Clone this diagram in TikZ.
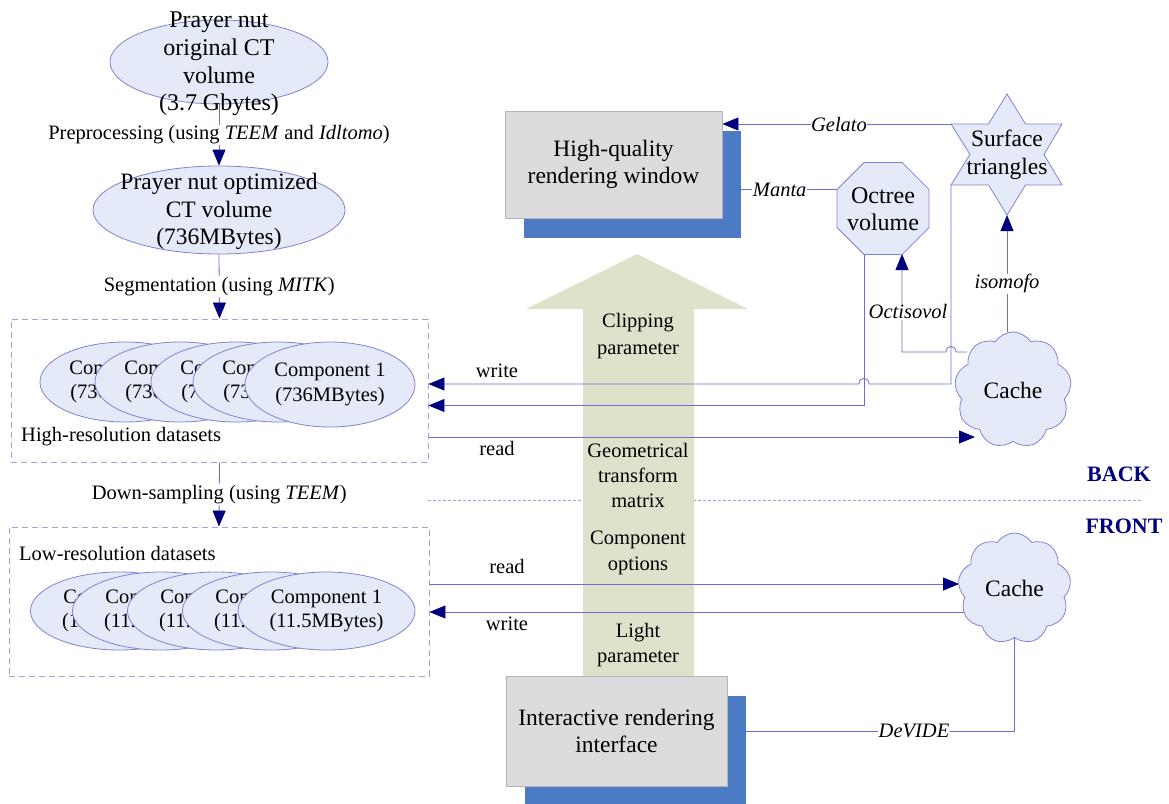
\documentclass[tikz,border=0pt]{standalone}
\usepackage{fontspec}
\setmainfont{Liberation Serif}
\usetikzlibrary{shapes.geometric,shapes.symbols,arrows.meta,shadows,calc}
\definecolor{lineblue}{HTML}{6E6ED2}
\definecolor{ellfill}{HTML}{E4EAF7}
\definecolor{ellline}{HTML}{8282D2}
\definecolor{dashcol}{HTML}{A0A0E0}
\definecolor{navy}{HTML}{00007F}
\definecolor{boxgray}{HTML}{DCDCDC}
\definecolor{boxline}{HTML}{B4B4B4}
\definecolor{shblue}{HTML}{4A7BC4}
\definecolor{olivefill}{HTML}{DEE2CB}
\pgfdeclarelayer{bgA}
\pgfdeclarelayer{bgB}
\pgfsetlayers{bgA,bgB,main}
\begin{document}
\begin{tikzpicture}[x=1pt,y=-1pt,
  font=\fontsize{20.5}{27}\selectfont,
  big/.style={font=\fontsize{23.5}{27.5}\selectfont},
  ell/.style={ellipse, draw=ellline, fill=ellfill, line width=0.8pt, inner sep=0pt},
  comp/.style={ell, align=center, font=\fontsize{20.5}{24.5}\selectfont},
  txt/.style={align=center, inner sep=0pt},
  dbox/.style={draw=dashcol, dash pattern=on 6pt off 4pt, line width=0.9pt, inner sep=0pt},
  gbox/.style={draw=boxline, fill=boxgray, line width=0.8pt, align=center, inner sep=0pt, big,
     drop shadow={shadow xshift=19pt, shadow yshift=-20pt, fill=shblue, opacity=1}},
  conn/.style={draw=lineblue, line width=0.8pt},
  arr/.style={-{Triangle[length=16pt,width=13pt,color=navy]}},
  elbl/.style={fill=white, inner sep=1pt},
  lbl/.style={fill=white, inner sep=0.5pt, font=\fontsize{20.5}{24}\selectfont\itshape},
  side/.style={font=\fontsize{22}{26}\selectfont\bfseries, text=navy, inner sep=0pt},
  shp/.style={draw=ellline, fill=ellfill, line width=0.8pt},
  cl/.style={cloud, cloud puffs=9, cloud puff arc=115, aspect=1, draw=ellline, fill=ellfill, line width=0.8pt, inner sep=0pt, big}]
\useasboundingbox (0,0) rectangle (1169,803);

% left column
\node[ell, minimum width=218pt, minimum height=84pt] (e1) at (219,62) {};
\node[txt, big, font=\fontsize{24}{27.7}\selectfont] (e1t) at (219,64) {Prayer nut\\original CT\\volume\\(3.7 Gbytes)};
\node[ell, minimum width=252pt, minimum height=88pt] (e2) at (219,210) {};
\node[txt, big] (e2t) at (219,211.5) {Prayer nut optimized\\CT volume\\(736MBytes)};

\node[dbox, minimum width=417pt, minimum height=143pt] (hr) at (219.5,390.5) {};
\node[dbox, minimum width=420pt, minimum height=149pt] (lr) at (219,601.5) {};

\node[comp, minimum width=170pt, minimum height=80pt] (h5) at (125,382) {Component 5\\(736MBytes)};
\node[comp, minimum width=170pt, minimum height=80pt] (h4) at (180,382) {Component 4\\(736MBytes)};
\node[comp, minimum width=170pt, minimum height=80pt] (h3) at (236,382) {Component 3\\(736MBytes)};
\node[comp, minimum width=170pt, minimum height=80pt] (h2) at (278,382) {Component 2\\(736MBytes)};
\node[comp, minimum width=170pt, minimum height=85pt] (h1) at (330,384.5) {Component 1\\(736MBytes)};
\node[anchor=west, inner sep=0pt] (hrl) at (21,437) {High-resolution datasets};

\node[anchor=west, inner sep=0pt] (lrl) at (19,553) {Low-resolution datasets};
\node[comp, minimum width=177pt, minimum height=78pt] (l5) at (119,611) {Component 5\\(11.5MBytes)};
\node[comp, minimum width=177pt, minimum height=78pt] (l4) at (161,611) {Component 4\\(11.5MBytes)};
\node[comp, minimum width=177pt, minimum height=78pt] (l3) at (216,611) {Component 3\\(11.5MBytes)};
\node[comp, minimum width=177pt, minimum height=78pt] (l2) at (271,611) {Component 2\\(11.5MBytes)};
\node[comp, minimum width=177pt, minimum height=78pt] (l1) at (326.5,611) {Component 1\\(11.5MBytes)};

\draw[conn,arr] (e1.south) -- node[elbl]{Preprocessing (using \textit{TEEM} and \textit{Idltomo})} (e2.north);
\draw[conn,arr] (e2.south) -- node[elbl]{Segmentation (using \textit{MITK})} (hr.north);
\draw[conn,arr] (hr.south) -- node[elbl]{Down-sampling (using \textit{TEEM})} (lr.north);

% back / front separator and big arrow
\begin{pgfonlayer}{bgA}
\draw[dashcol, line width=0.9pt, dash pattern=on 3pt off 2pt] (hr.east |- 0,500) -- (1143,500);
\fill[olivefill] (583,678) -- (583,309) -- (526,309) -- (637,254) -- (748,309) -- (694,309) -- (694,678) -- cycle;
\end{pgfonlayer}
\node[txt] (t1) at (638,336) {Clipping\\parameter};
\node[txt, font=\fontsize{20.5}{25}\selectfont] (t2) at (638,475) {Geometrical\\transform\\matrix};
\node[txt, font=\fontsize{20.5}{26}\selectfont] (t3) at (638,553) {Component\\options};
\node[txt, font=\fontsize{20.5}{25}\selectfont] (t4) at (638,645) {Light\\parameter};
\node[side] (back) at (1119,474) {BACK};
\node[side] (front) at (1124,526) {FRONT};

% right side nodes
\node[gbox, minimum width=217pt, minimum height=107pt] (hq) at (613.5,164.5) {High-quality\\rendering window};
\node[gbox, minimum width=221pt, minimum height=110pt] (ir) at (616.5,731) {Interactive rendering\\interface};

\coordinate (sT) at (1007,94);
\coordinate (sUL) at (951,124);
\coordinate (sLL) at (951,185);
\coordinate (sB) at (1007,215);
\draw[shp] (sT) -- (1025.5,124) -- (1062,124) -- (1044,154.5) -- (1062,185) -- (1025.5,185) -- (sB)
  -- (988.5,185) -- (sLL) -- (970,154.5) -- (sUL) -- (988.5,124) -- cycle;
\node[txt, big] (st) at (1007,155) {Surface\\triangles};

\node[regular polygon, regular polygon sides=8, minimum size=99.6pt, shp, inner sep=0pt] (oct) at (883,208.5) {};
\node[txt, big, font=\fontsize{24}{27.5}\selectfont] (octt) at (883,209) {Octree\\volume};
\coordinate (oUL) at ($(oct.center)+(-46,-19)$);
\coordinate (oBL) at ($(oct.center)+(-19,45.5)$);
\coordinate (oBR) at ($(oct.center)+(19,45.5)$);

\node[cl, minimum width=117pt, minimum height=116pt] (c1) at (1013,390) {Cache};
\node[cl, minimum width=113pt, minimum height=111pt] (c2) at (1014.5,588.5) {Cache};

\node[inner sep=0pt] (w1) at (497,371) {write};
\node[inner sep=0pt] (r1) at (497,448) {read};
\node[inner sep=0pt] (r2) at (507,566) {read};
\node[inner sep=0pt] (w2) at (507,624) {write};

\begin{pgfonlayer}{bgB}
\draw[conn,arr] (sUL) -- node[lbl,pos=0.49]{Gelato} (sUL -| hq.east);
\draw[conn,arr] (oUL) -- node[lbl,pos=0.5]{Manta} (oUL -| hq.east);
\draw[conn,arr] (c1.north -| sB) -- node[lbl,pos=0.41]{isomofo} (sB);
\draw[conn,arr] (967,352) -- (956,352) .. controls (956,344.5) and (946,344.5) .. (946,352) -- (oBR |- 0,352)
  -- node[lbl,pos=0.41,xshift=6pt]{Octisovol} (oBR);
\draw[conn,arr] (sLL) -- (sLL |- 0,384) -- (869,384) .. controls (869,376.5) and (859,376.5) .. (859,384) -- (hr.east |- 0,384);
\draw[conn,arr] (oBL) -- (oBL |- 0,405.5) -- (hr.east |- 0,405.5);
\draw[conn,arr] (hr.east |- 0,437) -- (975,437);
\draw[conn,arr] (lr.east |- 0,584) -- (c2.west |- 0,584);
\draw[conn,arr] (965,612) -- (lr.east |- 0,612);
\draw[conn,arr] (c2.south) |- node[lbl,pos=0.675]{DeVIDE} (ir.east);
\end{pgfonlayer}
\end{tikzpicture}
\end{document}
